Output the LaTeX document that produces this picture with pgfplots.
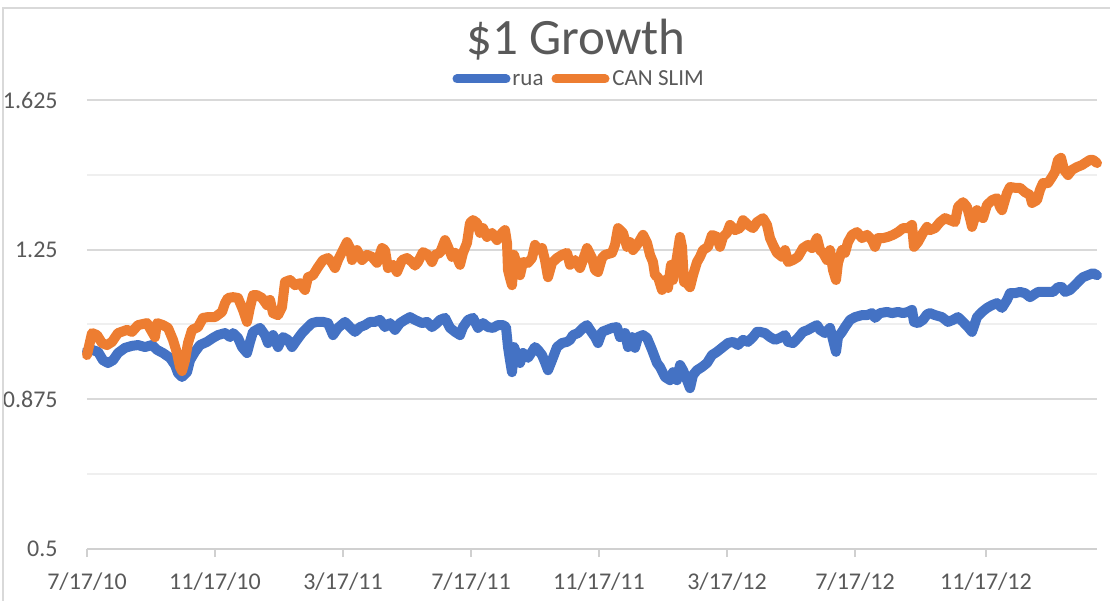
\documentclass[border=0pt]{standalone}
\usepackage{fontspec}
\setmainfont{Carlito}
\usepackage{pgfplots}
\pgfplotsset{compat=1.18}
\definecolor{cblue}{HTML}{4472C4}
\definecolor{corange}{HTML}{ED7D31}
\definecolor{ctext}{HTML}{595959}
\definecolor{cgrid}{HTML}{D9D9D9}
\definecolor{cgridm}{HTML}{EFEFEF}
\definecolor{caxis}{HTML}{D0D0D0}
\begin{document}
\begin{tikzpicture}
\begin{axis}[
  scale only axis, width=505bp, height=224.5bp,
  xmin=0, xmax=1010, ymin=0.5, ymax=1.625,
  axis y line=left, axis x line=bottom,
  y axis line style={draw=none},
  x axis line style={draw=caxis, line width=1bp, -},
  xtick={0,128,256,384,512,640,768,899},
  xticklabels={7/17/10,11/17/10,3/17/11,7/17/11,11/17/11,3/17/12,7/17/12,11/17/12},
  xtick style={draw=caxis, line width=1bp},
  xtick align=outside, major tick length=4bp,
  ytick={0.5,0.875,1.25,1.625},
  yticklabels={0.5,0.875,1.25,1.625},
  minor ytick={0.6875,1.0625,1.4375},
  ytick style={draw=none}, minor tick style={draw=none},
  ymajorgrids, yminorgrids,
  major grid style={cgrid, line width=1bp},
  minor grid style={cgridm, line width=1bp},
  tick label style={font=\fontsize{12bp}{14bp}\selectfont, text=ctext, inner sep=0pt},
  yticklabel style={anchor=east, xshift=-12.5bp},
  xticklabel style={anchor=base, yshift=-16bp},
  clip=false,
]
\addplot[cblue, line width=5bp, line join=round, line cap=round] coordinates {
(0,0.996)(5,0.999)(11,0.994)(16,0.973)(21,0.966)(26,0.973)(31,0.991)(38,1.004)(45,1.009)(51,1.011)
(58,1.006)(65,1.011)(70,0.999)(76,0.991)(83,0.979)(88,0.961)(91,0.941)(95,0.931)(100,0.943)(103,0.973)
(108,0.994)(113,1.011)(120,1.019)(126,1.029)(131,1.036)(138,1.041)(143,1.031)(146,1.041)(151,1.029)(155,1.006)
(160,0.991)(163,1.019)(166,1.044)(173,1.054)(178,1.036)(181,1.016)(186,1.036)(191,1.006)(196,1.031)(201,1.024)
(205,1.006)(210,1.024)(215,1.041)(220,1.054)(225,1.066)(230,1.069)(236,1.069)(241,1.066)(246,1.036)(251,1.054)
(258,1.069)(263,1.056)(268,1.044)(273,1.056)(278,1.061)(283,1.069)(288,1.069)(293,1.074)(298,1.056)(303,1.066)
(308,1.049)(313,1.066)(318,1.074)(323,1.081)(328,1.074)(335,1.066)(340,1.069)(345,1.056)(350,1.066)(353,1.074)
(358,1.079)(363,1.054)(368,1.044)(373,1.036)(376,1.056)(381,1.074)(386,1.079)(391,1.054)(396,1.066)(401,1.056)
(406,1.054)(411,1.061)(416,1.061)(419,1.056)(421,1.006)(423,0.973)(425,0.943)(427,1.006)(430,0.986)(433,0.966)
(436,0.991)(441,0.979)(445,0.994)(448,1.006)(451,0.999)(455,0.986)(458,0.968)(461,0.948)(465,0.973)(470,1.006)
(475,1.016)(480,1.019)(483,1.024)(486,1.036)(491,1.041)(496,1.054)(500,1.061)(503,1.049)(508,1.031)(511,1.016)
(515,1.044)(520,1.049)(525,1.054)(530,1.056)(533,1.031)(538,1.041)(541,1.006)(545,1.031)(548,1.004)(551,1.031)
(556,1.036)(560,1.029)(565,0.999)(570,0.966)(573,0.956)(578,0.931)(583,0.923)(586,0.943)(590,0.923)(593,0.961)
(596,0.948)(600,0.923)(603,0.903)(606,0.936)(610,0.948)(615,0.956)(620,0.966)(625,0.986)(630,0.994)(635,1.004)
(641,1.016)(646,1.019)(651,1.011)(656,1.024)(661,1.019)(666,1.031)(670,1.044)(673,1.044)(678,1.041)(683,1.031)
(688,1.024)(693,1.029)(698,1.036)(701,1.019)(706,1.016)(711,1.029)(716,1.044)(721,1.049)(726,1.056)(730,1.061)
(733,1.049)(738,1.041)(743,1.054)(746,1.024)(749,0.994)(751,1.031)(755,1.044)(758,1.056)(763,1.074)(768,1.081)
(775,1.086)(780,1.086)(785,1.091)(788,1.079)(793,1.091)(800,1.094)(805,1.091)(811,1.094)(816,1.091)(821,1.094)
(825,1.099)(827,1.069)(831,1.066)(836,1.074)(840,1.088)(843,1.091)(848,1.086)(855,1.081)(861,1.069)(866,1.074)
(871,1.081)(876,1.069)(881,1.056)(885,1.044)(890,1.081)(895,1.094)(900,1.104)(905,1.111)(910,1.116)(915,1.104)
(920,1.124)(923,1.141)(928,1.141)(933,1.144)(938,1.141)(943,1.131)(946,1.136)(951,1.144)(956,1.144)(961,1.144)
(966,1.144)(971,1.156)(975,1.156)(978,1.144)(983,1.149)(988,1.161)(993,1.174)(996,1.181)(1001,1.186)(1006,1.191)
(1010,1.186)
};
\addplot[corange, line width=5bp, line join=round, line cap=round] coordinates {
(0,0.986)(5,1.041)(10,1.036)(15,1.016)(20,1.011)(25,1.019)(31,1.041)(40,1.049)(45,1.044)(51,1.061)
(60,1.066)(65,1.044)(68,1.031)(70,1.066)(76,1.061)(81,1.054)(86,1.024)(90,0.991)(93,0.956)(95,0.946)
(98,0.973)(101,1.016)(105,1.049)(111,1.056)(116,1.079)(121,1.081)(128,1.081)(135,1.094)(138,1.116)(141,1.129)
(146,1.131)(151,1.129)(156,1.099)(160,1.069)(163,1.106)(166,1.136)(170,1.136)(175,1.129)(180,1.111)(183,1.124)
(186,1.091)(191,1.086)(195,1.106)(198,1.169)(203,1.174)(208,1.161)(213,1.166)(218,1.149)(221,1.181)(226,1.186)
(231,1.206)(236,1.224)(241,1.229)(245,1.217)(248,1.204)(251,1.224)(256,1.249)(260,1.269)(263,1.254)(265,1.224)
(270,1.249)(275,1.224)(280,1.237)(285,1.232)(290,1.217)(295,1.254)(298,1.249)(301,1.204)(306,1.212)(310,1.194)
(315,1.224)(320,1.229)(325,1.219)(328,1.210)(331,1.219)(336,1.244)(341,1.237)(345,1.219)(348,1.237)(353,1.242)
(358,1.274)(361,1.257)(365,1.232)(368,1.242)(373,1.212)(376,1.242)(380,1.267)(383,1.317)(386,1.324)(390,1.317)
(393,1.292)(396,1.304)(400,1.282)(405,1.292)(410,1.274)(415,1.292)(418,1.299)(420,1.267)(421,1.199)(423,1.179)
(425,1.161)(427,1.237)(430,1.212)(433,1.186)(436,1.219)(441,1.217)(445,1.229)(448,1.262)(451,1.249)(455,1.254)
(458,1.224)(461,1.181)(465,1.217)(470,1.229)(475,1.237)(480,1.242)(483,1.212)(488,1.224)(493,1.204)(496,1.224)
(500,1.254)(505,1.229)(508,1.199)(511,1.194)(515,1.229)(518,1.237)(525,1.242)(528,1.262)(531,1.304)(536,1.292)
(540,1.257)(543,1.269)(546,1.249)(550,1.262)(553,1.274)(556,1.287)(560,1.267)(563,1.237)(566,1.219)(568,1.186)
(571,1.181)(575,1.149)(578,1.174)(581,1.154)(584,1.212)(586,1.174)(590,1.232)(593,1.282)(595,1.257)(597,1.169)
(600,1.166)(603,1.156)(606,1.186)(610,1.219)(613,1.232)(616,1.249)(621,1.257)(625,1.287)(630,1.282)(633,1.257)
(636,1.282)(640,1.292)(643,1.312)(648,1.299)(653,1.304)(656,1.324)(661,1.312)(666,1.304)(670,1.319)(676,1.329)
(680,1.312)(683,1.279)(686,1.262)(690,1.242)(695,1.232)(698,1.249)(701,1.219)(706,1.224)(711,1.232)(716,1.254)
(721,1.262)(725,1.254)(730,1.279)(733,1.249)(736,1.242)(740,1.224)(743,1.249)(746,1.199)(749,1.174)(751,1.217)
(755,1.249)(758,1.242)(761,1.269)(765,1.287)(770,1.294)(775,1.279)(780,1.287)(785,1.274)(788,1.257)(791,1.279)
(796,1.279)(801,1.282)(806,1.287)(811,1.294)(816,1.304)(821,1.304)(825,1.312)(827,1.257)(831,1.269)(836,1.292)
(840,1.307)(843,1.299)(848,1.304)(853,1.319)(858,1.329)(863,1.324)(868,1.319)(871,1.357)(876,1.369)(880,1.357)
(883,1.329)(885,1.307)(890,1.349)(893,1.337)(896,1.329)(900,1.362)(905,1.374)(910,1.379)(913,1.357)(915,1.349)
(920,1.392)(923,1.407)(928,1.405)(933,1.405)(938,1.394)(943,1.387)(945,1.367)(950,1.374)(953,1.400)(956,1.417)
(961,1.417)(965,1.432)(968,1.445)(971,1.475)(974,1.480)(977,1.450)(981,1.437)(985,1.450)(990,1.457)(995,1.462)
(998,1.467)(1003,1.475)(1006,1.475)(1010,1.467)
};
\coordinate (bl) at (rel axis cs:0,0);
\coordinate (tr) at (rel axis cs:1,1);
\end{axis}
% title and legend
\begin{scope}[shift={(bl)}]
\node[text=ctext, font=\fontsize{25.5bp}{28bp}\selectfont, anchor=base, inner sep=0pt] at (244.5bp,247bp) {\$1 Growth};
\draw[cblue, line width=4.5bp, line cap=round] (185bp,235bp) -- (209.5bp,235bp);
\node[text=ctext, font=\fontsize{11.5bp}{14bp}\selectfont, anchor=base west, inner sep=0pt] at (212.5bp,231.5bp) {rua};
\draw[corange, line width=4.5bp, line cap=round] (234.5bp,235bp) -- (259bp,235bp);
\node[text=ctext, font=\fontsize{11.5bp}{14bp}\selectfont, anchor=base west, inner sep=0pt] at (262.5bp,231.5bp) {CAN SLIM};
\draw[cgrid, line width=0.75bp] (-42bp,-40bp) rectangle (530bp,270.5bp);
\end{scope}
\pgfresetboundingbox
\path ([shift={(-43.5bp,-26bp)}]bl) rectangle ([shift={(6.5bp,50bp)}]tr);
\end{tikzpicture}
\end{document}
